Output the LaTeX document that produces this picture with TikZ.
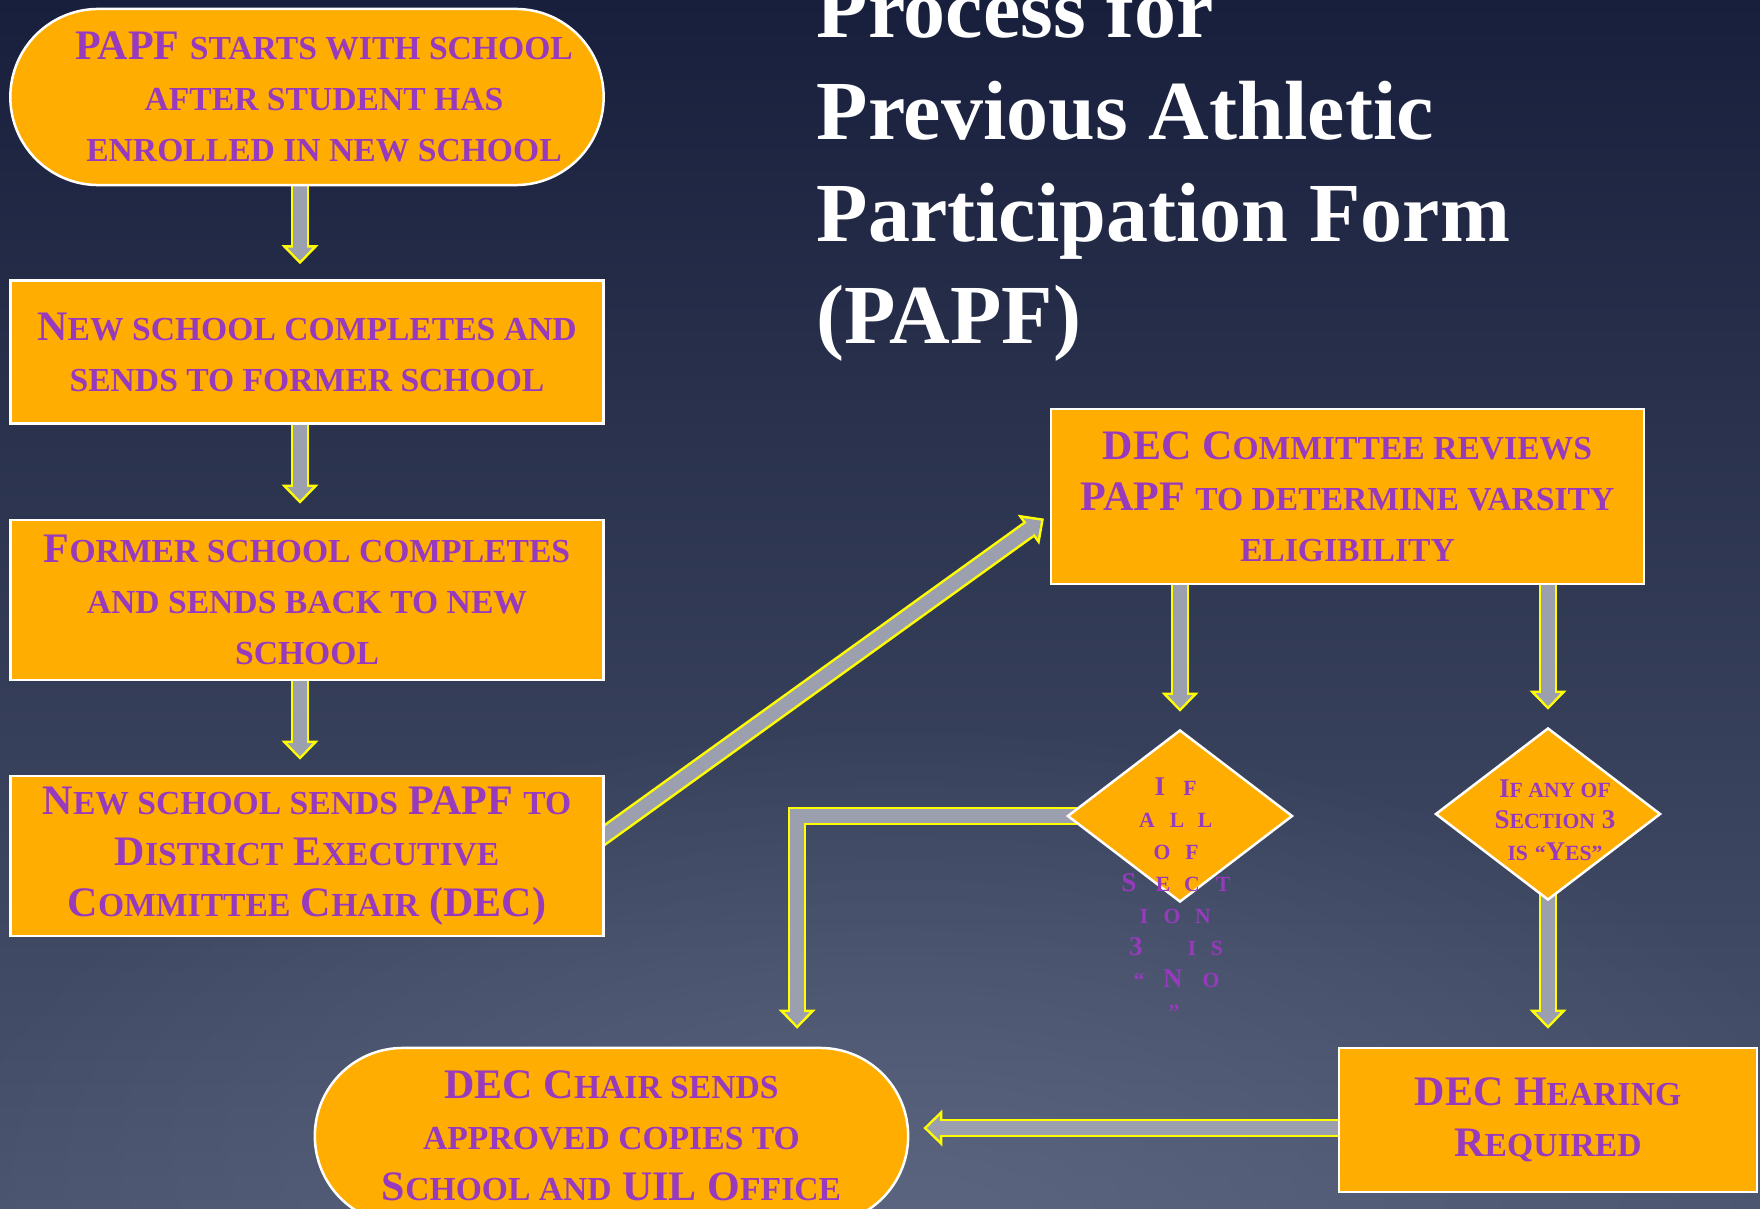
\documentclass[tikz,border=0pt]{standalone}
\usepackage{fontspec}
\setmainfont{Liberation Serif}
\usepackage{graphicx}
\usetikzlibrary{shapes.geometric,arrows.meta,fadings}
\definecolor{boxorange}{RGB}{255,173,0}
\definecolor{boxpurple}{RGB}{152,58,190}
\definecolor{arrowgrey}{RGB}{156,160,174}
\definecolor{arrowyellow}{RGB}{255,255,0}
\definecolor{bgtop}{RGB}{24,31,60}
\definecolor{bgbottom}{RGB}{74,84,110}
\definecolor{bgglow}{RGB}{96,106,132}
\tikzfading[name=glowfade, inner color=transparent!0, outer color=transparent!100]
\newcommand{\sm}[1]{\scalebox{.8}{\MakeUppercase{#1}}}
\newcommand{\boxfont}{\fontsize{11.95}{14.5}\selectfont\bfseries}
\newcommand{\diafont}{\fontsize{7.7}{9}\selectfont\bfseries}
\pgfdeclarelayer{background}
\pgfdeclarelayer{flow}
\pgfsetlayers{background,flow,main}
\tikzset{
    stepbox/.style={draw=white, line width=.025cm, fill=boxorange, text=boxpurple, font=\boxfont, align=center, inner sep=0, minimum width=5.93cm},
    roundbox/.style={stepbox, rounded corners=.88cm, minimum height=1.76cm},
    boxtext/.style={text=boxpurple, font=\boxfont, align=center, inner sep=0},
    decision/.style={diamond, draw=white, line width=.025cm, fill=boxorange, inner sep=0, minimum width=2.25cm, minimum height=1.72cm},
    dtext/.style={text=boxpurple, font=\diafont, align=center, inner sep=0},
    flowarrow/.style={draw=arrowyellow, line width=.185cm, -{Triangle[width=.37cm, length=.19cm, line width=0pt]}, shorten >=#1,
        postaction={draw=arrowgrey, line width=.135cm, -{Triangle[width=.25cm, length=.13cm, line width=0pt]}, shorten >=#1+.035cm}},
}
\begin{document}
\begin{tikzpicture}[x=.01cm, y=-.01cm]
\useasboundingbox (0,0) rectangle (1760,1209);
\begin{pgfonlayer}{background}
\shade[top color=bgtop, bottom color=bgbottom] (0,0) rectangle (1760,1209);
\fill[bgglow, path fading=glowfade, fill opacity=.8] (900,1240) ellipse (1000 and 520);
\end{pgfonlayer}

%title
\node[text=white, font=\fontsize{23.9}{29}\selectfont\bfseries, align=left, anchor=base west, inner sep=0] (title) at (816,343){Process for\\ Previous Athletic\\ Participation Form\\ (PAPF)};

%left column
\node[roundbox] (start) at (307,97){};
\node[boxtext] (starttext) at (324,97){PAPF \sm{starts with school}\\ \sm{after student has}\\ \sm{enrolled in new school}};
\node[stepbox, minimum height=1.43cm] (newdone) at (307,352){N\sm{ew school completes and}\\ \sm{sends to former school}};
\node[stepbox, minimum height=1.6cm] (formerdone) at (307,600){F\sm{ormer school completes}\\ \sm{and sends back to new}\\ \sm{school}};
\node[stepbox, minimum height=1.6cm] (tochair) at (307,856){N\sm{ew school sends} PAPF \sm{to}\\ D\sm{istrict} E\sm{xecutive}\\ C\sm{ommittee} C\sm{hair} (DEC)};

%right side
\node[stepbox, minimum height=1.75cm] (review) at (1347.5,496.5){DEC C\sm{ommittee reviews}\\ PAPF \sm{to determine varsity}\\ \sm{eligibility}};
\node[decision] (allno) at (1180,816){};
\node[decision] (anyyes) at (1548,814){};
\node[dtext] (anyyestext) at (1555,820){I\sm{f any of}\\ S\sm{ection} 3\\ \sm{is} \sm{“}Y\sm{es}\sm{”}};
\node[stepbox, minimum width=4.18cm, minimum height=1.44cm] (hearing) at (1548,1120){DEC H\sm{earing}\\ R\sm{equired}};
\node[roundbox] (finish) at (611.5,1136){DEC C\sm{hair sends}\\ \sm{approved copies to}\\ S\sm{chool and} UIL O\sm{ffice}};

%letters of the left decision
\foreach \ch/\x/\y [count=\k] in {
    I/1160/795, \sm{F}/1190/795,
    \sm{A}/1147/827, \sm{L}/1177/827, \sm{L}/1205/827,
    \sm{O}/1162/859, \sm{F}/1192/859,
    S/1129/891, \sm{E}/1163/891, \sm{C}/1192/891, \sm{T}/1223/891,
    \sm{I}/1144/923, \sm{O}/1172/923, \sm{N}/1203/923,
    3/1136/955, \sm{I}/1192/955, \sm{S}/1217/955,
    \sm{“}/1139/987, N/1173/987, \sm{O}/1211/987,
    \sm{”}/1174/1019
}{
    \node[dtext, anchor=base] (noletter\k) at (\x,\y){\ch};
}

%arrows
\begin{pgfonlayer}{flow}
\path[flowarrow=.15cm] ([xshift=-.07cm]start.south) -- ([xshift=-.07cm]newdone.north);
\path[flowarrow=.15cm] ([xshift=-.07cm]newdone.south) -- ([xshift=-.07cm]formerdone.north);
\path[flowarrow=.15cm] ([xshift=-.07cm]formerdone.south) -- ([xshift=-.07cm]tochair.north);
\path[flowarrow=.07cm] ([xshift=-.1cm, yshift=.14cm]tochair.east) -- ([yshift=-.18cm]review.west);
\path[flowarrow=.17cm] (review.south -| allno.north) -- (allno.north);
\path[flowarrow=.17cm] (review.south -| anyyes.north) -- (anyyes.north);
\path[flowarrow=.18cm] (allno.center) -| ([xshift=1.855cm]finish.north);
\path[flowarrow=.18cm] (anyyes.center) -- (hearing.north);
\path[flowarrow=.14cm] ([yshift=-.08cm]hearing.west) -- ([yshift=-.08cm]hearing.west -| finish.east);
\end{pgfonlayer}
\end{tikzpicture}
\end{document}
